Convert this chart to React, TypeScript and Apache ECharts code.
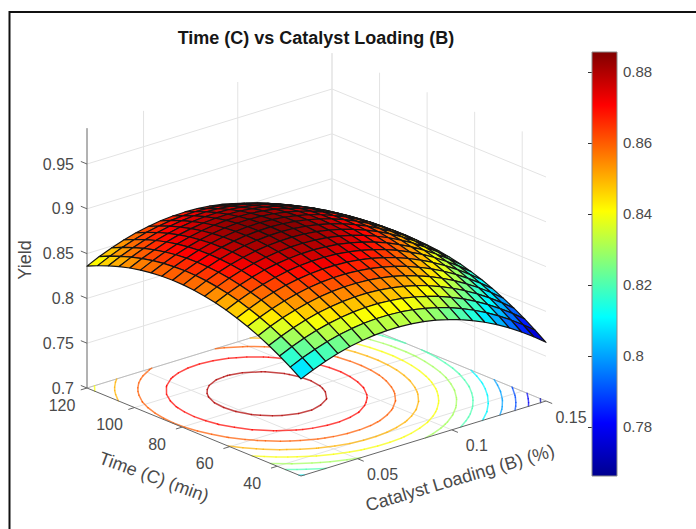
import React, { useEffect, useRef } from "react";
import * as echarts from "echarts";

// ---- data ----
const titleText = "Time (C) vs Catalyst Loading (B)";
const catalystGrid = [0.02, 0.0265, 0.033, 0.0395, 0.046, 0.0525, 0.059, 0.0655, 0.072, 0.0785, 0.085, 0.0915, 0.098, 0.1045, 0.111, 0.1175, 0.124, 0.1305, 0.137, 0.1435, 0.15];
const timeGrid = [120, 115.5, 111, 106.5, 102, 97.5, 93, 88.5, 84, 79.5, 75, 70.5, 66, 61.5, 57, 52.5, 48, 43.5, 39, 34.5, 30];
const yieldT120 = [.8360, .8425, .8480, .8527, .8565, .8594, .8615, .8627, .8630, .8625, .8611, .8588, .8556, .8516, .8467, .8410, .8343, .8268, .8185, .8092, .7991];
const yieldT115 = [.8415, .8479, .8534, .8581, .8619, .8648, .8669, .8680, .8684, .8678, .8664, .8641, .8609, .8569, .8520, .8462, .8395, .8320, .8236, .8144, .8043];
const yieldT111 = [.8462, .8526, .8581, .8628, .8666, .8695, .8715, .8727, .8730, .8724, .8710, .8687, .8655, .8614, .8565, .8507, .8440, .8365, .8281, .8188, .8087];
const yieldT106 = [.8503, .8566, .8621, .8668, .8705, .8734, .8754, .8766, .8769, .8763, .8748, .8725, .8693, .8652, .8603, .8545, .8478, .8403, .8319, .8226, .8124];
const yieldT102 = [.8536, .8599, .8654, .8700, .8738, .8766, .8787, .8798, .8801, .8795, .8780, .8756, .8724, .8683, .8634, .8576, .8509, .8433, .8349, .8256, .8154];
const yieldT97 = [.8561, .8625, .8680, .8726, .8763, .8791, .8811, .8823, .8825, .8819, .8804, .8781, .8748, .8707, .8658, .8599, .8532, .8456, .8372, .8279, .8177];
const yieldT93 = [.8580, .8643, .8698, .8744, .8781, .8809, .8829, .8840, .8843, .8836, .8821, .8797, .8765, .8724, .8674, .8616, .8548, .8472, .8388, .8294, .8192];
const yieldT88 = [.8591, .8654, .8709, .8755, .8792, .8820, .8840, .8850, .8853, .8846, .8831, .8807, .8775, .8733, .8683, .8625, .8557, .8481, .8396, .8303, .8201];
const yieldT84 = [.8596, .8659, .8713, .8758, .8795, .8823, .8843, .8854, .8856, .8849, .8834, .8810, .8777, .8736, .8686, .8627, .8559, .8483, .8398, .8304, .8202];
const yieldT79 = [.8593, .8655, .8709, .8755, .8792, .8820, .8839, .8850, .8852, .8845, .8829, .8805, .8772, .8731, .8680, .8621, .8554, .8477, .8392, .8299, .8196];
const yieldT75 = [.8582, .8645, .8699, .8744, .8781, .8809, .8828, .8838, .8840, .8833, .8818, .8793, .8760, .8718, .8668, .8609, .8541, .8465, .8379, .8285, .8183];
const yieldT70 = [.8565, .8627, .8681, .8726, .8763, .8790, .8809, .8820, .8821, .8814, .8799, .8774, .8741, .8699, .8648, .8589, .8521, .8445, .8359, .8265, .8162];
const yieldT66 = [.8540, .8603, .8656, .8701, .8738, .8765, .8784, .8794, .8796, .8788, .8773, .8748, .8715, .8673, .8622, .8562, .8494, .8417, .8332, .8238, .8135];
const yieldT61 = [.8508, .8571, .8624, .8669, .8705, .8733, .8751, .8761, .8763, .8755, .8739, .8714, .8681, .8639, .8588, .8528, .8460, .8383, .8297, .8203, .8100];
const yieldT57 = [.8469, .8531, .8585, .8630, .8666, .8693, .8711, .8721, .8722, .8715, .8699, .8674, .8640, .8598, .8547, .8487, .8419, .8342, .8256, .8161, .8058];
const yieldT52 = [.8423, .8485, .8538, .8583, .8619, .8646, .8664, .8674, .8675, .8667, .8651, .8626, .8592, .8550, .8498, .8439, .8370, .8293, .8207, .8112, .8009];
const yieldT48 = [.8370, .8432, .8485, .8529, .8565, .8592, .8610, .8620, .8620, .8613, .8596, .8571, .8537, .8494, .8443, .8383, .8314, .8237, .8151, .8056, .7952];
const yieldT43 = [.8309, .8371, .8424, .8468, .8504, .8530, .8548, .8558, .8559, .8551, .8534, .8509, .8475, .8432, .8380, .8320, .8251, .8174, .8087, .7992, .7889];
const yieldT39 = [.8241, .8303, .8356, .8400, .8435, .8462, .8480, .8489, .8490, .8481, .8465, .8439, .8405, .8362, .8310, .8250, .8181, .8103, .8017, .7922, .7818];
const yieldT34 = [.8166, .8228, .8280, .8324, .8359, .8386, .8404, .8413, .8413, .8405, .8388, .8362, .8328, .8285, .8233, .8173, .8104, .8026, .7939, .7844, .7740];
const yieldT30 = [.8084, .8145, .8198, .8242, .8277, .8303, .8321, .8330, .8330, .8322, .8304, .8279, .8244, .8201, .8149, .8088, .8019, .7941, .7854, .7759, .7655];
const yieldRows = [yieldT120, yieldT115, yieldT111, yieldT106, yieldT102, yieldT97, yieldT93, yieldT88, yieldT84, yieldT79, yieldT75, yieldT70, yieldT66, yieldT61, yieldT57, yieldT52, yieldT48, yieldT43, yieldT39, yieldT34, yieldT30];

const contourLevels = [0.77, 0.78, 0.79, 0.8, 0.81, 0.82, 0.83, 0.84, 0.85, 0.86, 0.87, 0.88];
const yieldTicks = [0.7, 0.75, 0.8, 0.85, 0.9, 0.95];
const yieldTickLabels = ["0.7", "0.75", "0.8", "0.85", "0.9", "0.95"];
const timeTicks = [40, 60, 80, 100, 120];
const timeTickLabels = ["40", "60", "80", "100", "120"];
const catalystTicks = [0.05, 0.1, 0.15];
const catalystTickLabels = ["0.05", "0.1", "0.15"];
const colorbarTicks = [0.78, 0.8, 0.82, 0.84, 0.86, 0.88];

// ---- scales ----
const B_MIN = 0.02, B_MAX = 0.15, C_MIN = 30, C_MAX = 120, Z_MIN = 0.7, Z_MAX = 0.99;
const CLIM_MIN = 0.7662, CLIM_MAX = 0.8856;

type P3 = [number, number, number];
const project = (b: number, c: number, z: number): [number, number] => {
  const tb = (b - B_MIN) / (B_MAX - B_MIN);
  const tc = (C_MAX - c) / (C_MAX - C_MIN);
  return [87 + 245 * tb + 214 * tc, 388 - 75 * tb + 88 * tc - ((z - Z_MIN) / 0.05) * 44.8];
};

const jetStops: [number, number[]][] = [
  [0, [0, 0, 143]],
  [0.125, [0, 0, 255]],
  [0.375, [0, 255, 255]],
  [0.625, [255, 255, 0]],
  [0.875, [255, 0, 0]],
  [1, [128, 0, 0]],
];
const jet = (v: number): string => {
  const t = Math.max(0, Math.min(1, (v - CLIM_MIN) / (CLIM_MAX - CLIM_MIN)));
  for (let k = 1; k < jetStops.length; k++) {
    if (t <= jetStops[k][0]) {
      const [t0, c0] = jetStops[k - 1];
      const [t1, c1] = jetStops[k];
      const f = (t - t0) / (t1 - t0);
      return `rgb(${c0.map((a, n) => Math.round(a + (c1[n] - a) * f)).join(",")})`;
    }
  }
  return "rgb(128,0,0)";
};

const FONT = "Liberation Sans";
const INK = "#4a4a4a";

const gridSegments: [P3, P3][] = [
  ...catalystTicks.map((b): [P3, P3] => [[b, C_MIN, Z_MIN], [b, C_MAX, Z_MIN]]),
  ...timeTicks.map((c): [P3, P3] => [[B_MIN, c, Z_MIN], [B_MAX, c, Z_MIN]]),
  ...catalystTicks.map((b): [P3, P3] => [[b, C_MAX, Z_MIN], [b, C_MAX, Z_MAX]]),
  ...timeTicks.map((c): [P3, P3] => [[B_MAX, c, Z_MIN], [B_MAX, c, Z_MAX]]),
  ...yieldTicks.slice(1).map((z): [P3, P3] => [[B_MIN, C_MAX, z], [B_MAX, C_MAX, z]]),
  ...yieldTicks.slice(1).map((z): [P3, P3] => [[B_MAX, C_MIN, z], [B_MAX, C_MAX, z]]),
];
const floorBackSegments: [P3, P3][] = [
  [[B_MIN, C_MAX, Z_MIN], [B_MAX, C_MAX, Z_MIN]],
  [[B_MAX, C_MAX, Z_MIN], [B_MAX, C_MIN, Z_MIN]],
];
const axisSegments: [P3, P3][] = [
  [[B_MIN, C_MAX, Z_MIN], [B_MIN, C_MAX, Z_MAX]],
  [[B_MIN, C_MAX, Z_MIN], [B_MIN, C_MIN, Z_MIN]],
  [[B_MIN, C_MIN, Z_MIN], [B_MAX, C_MIN, Z_MIN]],
  ...yieldTicks.map((z): [P3, P3] => [[B_MIN, C_MAX, z], [B_MIN, C_MAX + 2.6, z]]),
  ...timeTicks.map((c): [P3, P3] => [[B_MIN, c, Z_MIN], [B_MIN - 0.0033, c, Z_MIN]]),
  ...catalystTicks.map((b): [P3, P3] => [[b, C_MIN, Z_MIN], [b, C_MIN - 2.6, Z_MIN]]),
];

const segmentSeries = (segs: [P3, P3][], stroke: string, lineWidth: number) => ({
  type: "custom",
  silent: true,
  clip: false,
  data: segs.map((_, k) => [k, 0]),
  encode: { x: 0, y: 1 },
  renderItem: (params: any, api: any) => {
    const [p, q] = segs[params.dataIndex];
    const a = api.coord(project(p[0], p[1], p[2]));
    const b = api.coord(project(q[0], q[1], q[2]));
    return {
      type: "line",
      shape: { x1: a[0], y1: a[1], x2: b[0], y2: b[1] },
      style: { stroke, lineWidth, fill: null },
    };
  },
});

type Lab = { text: string; at: P3; dx: number; dy: number; align: string };
const tickLabels: Lab[] = [
  ...yieldTicks.map((z, k) => ({ text: yieldTickLabels[k], at: [B_MIN, C_MAX, z] as P3, dx: -13, dy: 0, align: "right" })),
  ...timeTicks.map((c, k) => ({ text: timeTickLabels[k], at: [B_MIN, c, Z_MIN] as P3, dx: -25, dy: 17, align: "center" })),
  ...catalystTicks.map((b, k) => ({ text: catalystTickLabels[k], at: [b, C_MIN, Z_MIN] as P3, dx: 25, dy: 16, align: "center" })),
];

const contourSeries = {
  type: "custom",
  silent: true,
  clip: false,
  data: contourLevels.map((l, k) => [k, l]),
  encode: { x: 0, y: 1 },
  renderItem: (params: any, api: any) => {
    const level = contourLevels[params.dataIndex];
    const children: any[] = [];
    const cross = (i0: number, j0: number, i1: number, j1: number): number[] | null => {
      const a = yieldRows[j0][i0], b = yieldRows[j1][i1];
      if ((a < level) === (b < level)) return null;
      const f = (level - a) / (b - a);
      const bv = catalystGrid[i0] + (catalystGrid[i1] - catalystGrid[i0]) * f;
      const cv = timeGrid[j0] + (timeGrid[j1] - timeGrid[j0]) * f;
      return api.coord(project(bv, cv, Z_MIN));
    };
    for (let j = 0; j < timeGrid.length - 1; j++) {
      for (let i = 0; i < catalystGrid.length - 1; i++) {
        const pts = [cross(i, j, i + 1, j), cross(i + 1, j, i + 1, j + 1), cross(i + 1, j + 1, i, j + 1), cross(i, j + 1, i, j)].filter(Boolean) as number[][];
        for (let n = 0; n + 1 < pts.length; n += 2) {
          children.push({
            type: "line",
            shape: { x1: pts[n][0], y1: pts[n][1], x2: pts[n + 1][0], y2: pts[n + 1][1] },
            style: { stroke: jet(level), lineWidth: 1.5, lineCap: "round", fill: null, opacity: 0.72 },
          });
        }
      }
    }
    return { type: "group", children };
  },
};

// back-to-front order of the cells
const surfaceCells: number[][] = [];
for (let i = catalystGrid.length - 2; i >= 0; i--) {
  for (let j = 0; j < timeGrid.length - 1; j++) surfaceCells.push([i, j]);
}

const surfaceSeries = {
  type: "custom",
  silent: true,
  clip: false,
  data: surfaceCells,
  encode: { x: 0, y: 1 },
  renderItem: (_params: any, api: any) => {
    const i = api.value(0);
    const j = api.value(1);
    const corner = (a: number, b: number) => api.coord(project(catalystGrid[a], timeGrid[b], yieldRows[b][a]));
    return {
      type: "polygon",
      shape: { points: [corner(i, j), corner(i + 1, j), corner(i + 1, j + 1), corner(i, j + 1)] },
      style: { fill: jet(yieldRows[j + 1][i]), stroke: "#141414", lineWidth: 1.2, lineJoin: "round" },
    };
  },
};

const labelSeries = {
  type: "custom",
  silent: true,
  clip: false,
  data: tickLabels.map((_, k) => [k, 0]),
  encode: { x: 0, y: 1 },
  renderItem: (params: any, api: any) => {
    const l = tickLabels[params.dataIndex];
    const p = api.coord(project(l.at[0], l.at[1], l.at[2]));
    return {
      type: "text",
      x: p[0] + l.dx,
      y: p[1] + l.dy,
      style: { text: l.text, fill: INK, font: `16px "${FONT}"`, align: l.align, verticalAlign: "middle" },
    };
  },
};

const colorbarSeries = {
  type: "custom",
  silent: true,
  xAxisIndex: 1,
  yAxisIndex: 1,
  clip: false,
  data: [[0, CLIM_MIN, 1, CLIM_MAX]],
  encode: { x: 0, y: 1 },
  renderItem: (_params: any, api: any) => {
    const a = api.coord([api.value(0), api.value(3)]);
    const b = api.coord([api.value(2), api.value(1)]);
    return {
      type: "rect",
      shape: { x: a[0], y: a[1], width: b[0] - a[0], height: b[1] - a[1] },
      style: {
        fill: new echarts.graphic.LinearGradient(0, 1, 0, 0, jetStops.map(([offset, c]) => ({ offset, color: `rgb(${c.join(",")})` }))),
        stroke: "#8a8a8a",
        lineWidth: 1,
      },
    };
  },
};

const axisTitle = (text: string, x: number, y: number, deg: number) => ({
  type: "text",
  x,
  y,
  rotation: (deg * Math.PI) / 180,
  silent: true,
  style: { text, fill: INK, font: `18px "${FONT}"`, align: "center", verticalAlign: "middle" },
});

const option: any = {
  animation: false,
  backgroundColor: "#ffffff",
  title: {
    text: titleText,
    left: 311,
    top: 24,
    textAlign: "center",
    textStyle: { fontFamily: FONT, fontSize: 18, fontWeight: "bold", color: "#161616" },
  },
  graphic: [
    { type: "line", silent: true, shape: { x1: 9.5, y1: 12, x2: 696, y2: 12 }, style: { stroke: "#111", lineWidth: 2 } },
    { type: "line", silent: true, shape: { x1: 9.5, y1: 11, x2: 9.5, y2: 529 }, style: { stroke: "#111", lineWidth: 2 } },
    axisTitle("Yield", 25, 260, 90),
    axisTitle("Time (C) (min)", 154, 477, -20),
    axisTitle("Catalyst Loading (B) (%)", 460, 478, 16.5),
  ],
  grid: [
    { left: 0, top: 0, width: 696, height: 529 },
    { left: 592, top: 52, width: 25, height: 424 },
  ],
  xAxis: [
    { type: "value", min: 0, max: 696, show: false },
    { type: "value", gridIndex: 1, min: 0, max: 1, show: false },
  ],
  yAxis: [
    { type: "value", min: 0, max: 529, inverse: true, show: false },
    {
      type: "value",
      gridIndex: 1,
      min: CLIM_MIN,
      max: CLIM_MAX,
      position: "right",
      splitLine: { show: false },
      axisLine: { show: false },
      axisTick: { show: true, inside: true, length: 4, customValues: colorbarTicks, lineStyle: { color: "#333" } },
      axisLabel: {
        show: true,
        customValues: colorbarTicks,
        formatter: (v: number) => String(Number(v.toFixed(2))),
        margin: 6,
        fontFamily: FONT,
        fontSize: 15,
        color: INK,
      },
    },
  ],
  series: [
    segmentSeries(gridSegments, "#e3e3e3", 1),
    segmentSeries(floorBackSegments, "#bdbdbd", 1),
    contourSeries,
    segmentSeries(axisSegments, "#666666", 1),
    labelSeries,
    surfaceSeries,
    colorbarSeries,
  ],
};

export default function App() {
  const ref = useRef<HTMLDivElement>(null);
  useEffect(() => {
    const chart = echarts.init(ref.current!, undefined, { renderer: "svg" });
    chart.setOption(option);
    return () => chart.dispose();
  }, []);
  return <div ref={ref} style={{ position: "fixed", left: 0, top: 0, width: 696, height: 529 }} />;
}
